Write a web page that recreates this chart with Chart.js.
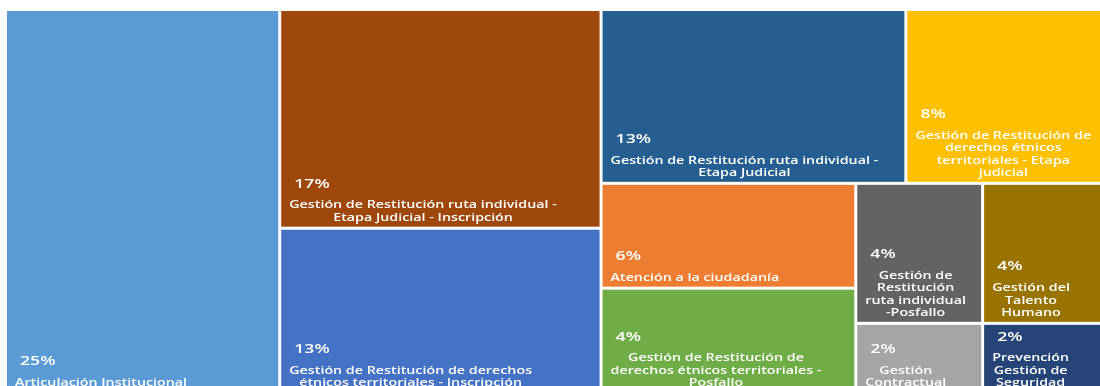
<!DOCTYPE html>
<html>
<head>
<meta charset="utf-8">
<script src="https://cdn.jsdelivr.net/npm/chart.js@4"></script>
<style>
  html, body { margin: 0; padding: 0; background: #ffffff; overflow: hidden; }
  #wrap { position: absolute; left: 0; top: 0; width: 1111px; height: 396px; }
</style>
</head>
<body>
<div id="wrap"><canvas id="chartTreemap"></canvas></div>
<script>
// =========================================================
// 1. DATOS (treemap de procesos)
// =========================================================

const categorias = [
    'Articulación Institucional',
    'Gestión de Restitución ruta individual - Etapa Judicial -  Inscripción',
    'Gestión de Restitución de derechos étnicos territoriales - Inscripción',
    'Gestión de Restitución ruta individual - Etapa Judicial',
    'Gestión de Restitución de derechos étnicos territoriales - Etapa judicial',
    'Atención a la ciudadanía',
    'Gestión de Restitución de derechos étnicos territoriales - Posfallo',
    'Gestión de Restitución ruta individual -Posfallo',
    'Gestión del Talento Humano',
    'Gestión Contractual',
    'Prevención Gestión de Seguridad'
];

const valores = [24.84, 16.58, 12.53, 12.50, 8.35, 6.30, 6.33, 4.19, 4.19, 2.10, 2.10];

// etiquetas de porcentaje tal como aparecen
const etiquetasPct = ['25%', '17%', '13%', '13%', '8%', '6%', '4%', '4%', '4%', '2%', '2%'];

// =========================================================
// 2. LAYOUT + ESTILO
// =========================================================

const colores = ['#5B9BD5', '#9E480E', '#4472C4', '#255E91', '#FFC000', '#ED7D31',
                 '#70AD47', '#636363', '#997300', '#A5A5A5', '#264478'];

// franjas del treemap: cuántas celdas y en qué sentido
const franjas = [
    { n: 1, dir: 'col' }, { n: 2, dir: 'col' }, { n: 2, dir: 'row' },
    { n: 2, dir: 'col' }, { n: 2, dir: 'row' }, { n: 2, dir: 'row' }
];

function layoutFranjas(vals, plan) {
    const box = { x0: 0, y0: 0, x1: 100, y1: 100 };
    const rects = [];
    let restante = vals.reduce((a, b) => a + b, 0);
    let idx = 0;
    plan.forEach(f => {
        const items = vals.slice(idx, idx + f.n);
        const s = items.reduce((a, b) => a + b, 0);
        const frac = s / restante;
        if (f.dir === 'col') {
            const w = (box.x1 - box.x0) * frac;
            let y = box.y0;
            items.forEach(v => {
                const h = (box.y1 - box.y0) * v / s;
                rects.push({ x0: box.x0, x1: box.x0 + w, y0: y, y1: y + h });
                y += h;
            });
            box.x0 += w;
        } else {
            const h = (box.y1 - box.y0) * frac;
            let x = box.x0;
            items.forEach(v => {
                const w = (box.x1 - box.x0) * v / s;
                rects.push({ x0: x, x1: x + w, y0: box.y0, y1: box.y0 + h });
                x += w;
            });
            box.y0 += h;
        }
        restante -= s;
        idx += f.n;
    });
    return rects;
}

const SX = 1.36;          // texto estirado como en la imagen
const GAP = 1.5;
const FONT_PCT = '600 13px "Open Sans"';
const FONT_LBL = '600 10.5px "Open Sans"';

function textW(ctx, t) { return ctx.measureText(t).width * SX; }

function drawText(ctx, t, x, y) {
    ctx.save();
    ctx.translate(x, y);
    ctx.scale(SX, 1);
    ctx.fillText(t, 0, 0);
    ctx.restore();
}

function wrap(ctx, text, maxW) {
    const words = text.split(/ +/);
    const lines = [];
    let cur = '';
    words.forEach(w => {
        const test = cur ? cur + ' ' + w : w;
        if (cur && textW(ctx, test) > maxW) { lines.push(cur); cur = w; }
        else cur = test;
    });
    if (cur) lines.push(cur);
    return lines;
}

const treemapPlugin = {
    id: 'treemapCells',
    beforeDatasetsDraw(chart) {
        const ctx = chart.ctx;
        const xs = chart.scales.x, ys = chart.scales.y;
        chart.data.datasets[0].data.forEach((r, i) => {
            const left = xs.getPixelForValue(r.x0) + GAP;
            const right = xs.getPixelForValue(r.x1) - GAP;
            const top = ys.getPixelForValue(r.y0) + GAP;
            const bottom = ys.getPixelForValue(r.y1) - GAP;
            ctx.save();
            ctx.fillStyle = colores[i];
            ctx.fillRect(left, top, right - left, bottom - top);

            // etiquetas
            ctx.fillStyle = '#ffffff';
            ctx.textBaseline = 'middle';
            ctx.textAlign = 'left';
            ctx.font = FONT_LBL;
            const cw = right - left;
            const lines = wrap(ctx, categorias[i], Math.min(cw - 16, cw * 0.92));
            const blockW = Math.max(...lines.map(l => textW(ctx, l)));
            const bx = left + 8;
            const lh = 12.3;
            let y = bottom - 9 - (lines.length - 1) * lh;
            const yPct = y - 21.5;
            lines.forEach(l => {
                drawText(ctx, l, bx + (blockW - textW(ctx, l)) / 2, y);
                y += lh;
            });
            ctx.font = FONT_PCT;
            drawText(ctx, etiquetasPct[i], bx + 5, yPct);
            ctx.restore();
        });
    }
};

// =========================================================
// 3. GRÁFICO
// =========================================================

function createTreemap(canvasId) {
    const rects = layoutFranjas(valores, franjas);
    const puntos = rects.map((r, i) => ({
        x: (r.x0 + r.x1) / 2, y: (r.y0 + r.y1) / 2,
        x0: r.x0, x1: r.x1, y0: r.y0, y1: r.y1, v: valores[i]
    }));
    const ctx = document.getElementById(canvasId).getContext('2d');
    new Chart(ctx, {
        type: 'scatter',
        data: { datasets: [{ label: 'Procesos', data: puntos, pointRadius: 0, pointHoverRadius: 0 }] },
        options: {
            responsive: true, maintainAspectRatio: false, animation: false,
            layout: { padding: { left: 5.5, top: 9.5, right: 1.5, bottom: 2.5 } },
            plugins: {
                legend: { display: false },
                tooltip: { callbacks: { label: c => categorias[c.dataIndex] + ': ' + etiquetasPct[c.dataIndex] } }
            },
            scales: {
                x: { type: 'linear', min: 0, max: 100, display: false },
                y: { type: 'linear', min: 0, max: 100, reverse: true, display: false }
            }
        },
        plugins: [treemapPlugin]
    });
}

document.addEventListener('DOMContentLoaded', () => {
    createTreemap('chartTreemap');
});
</script>
</body>
</html>
